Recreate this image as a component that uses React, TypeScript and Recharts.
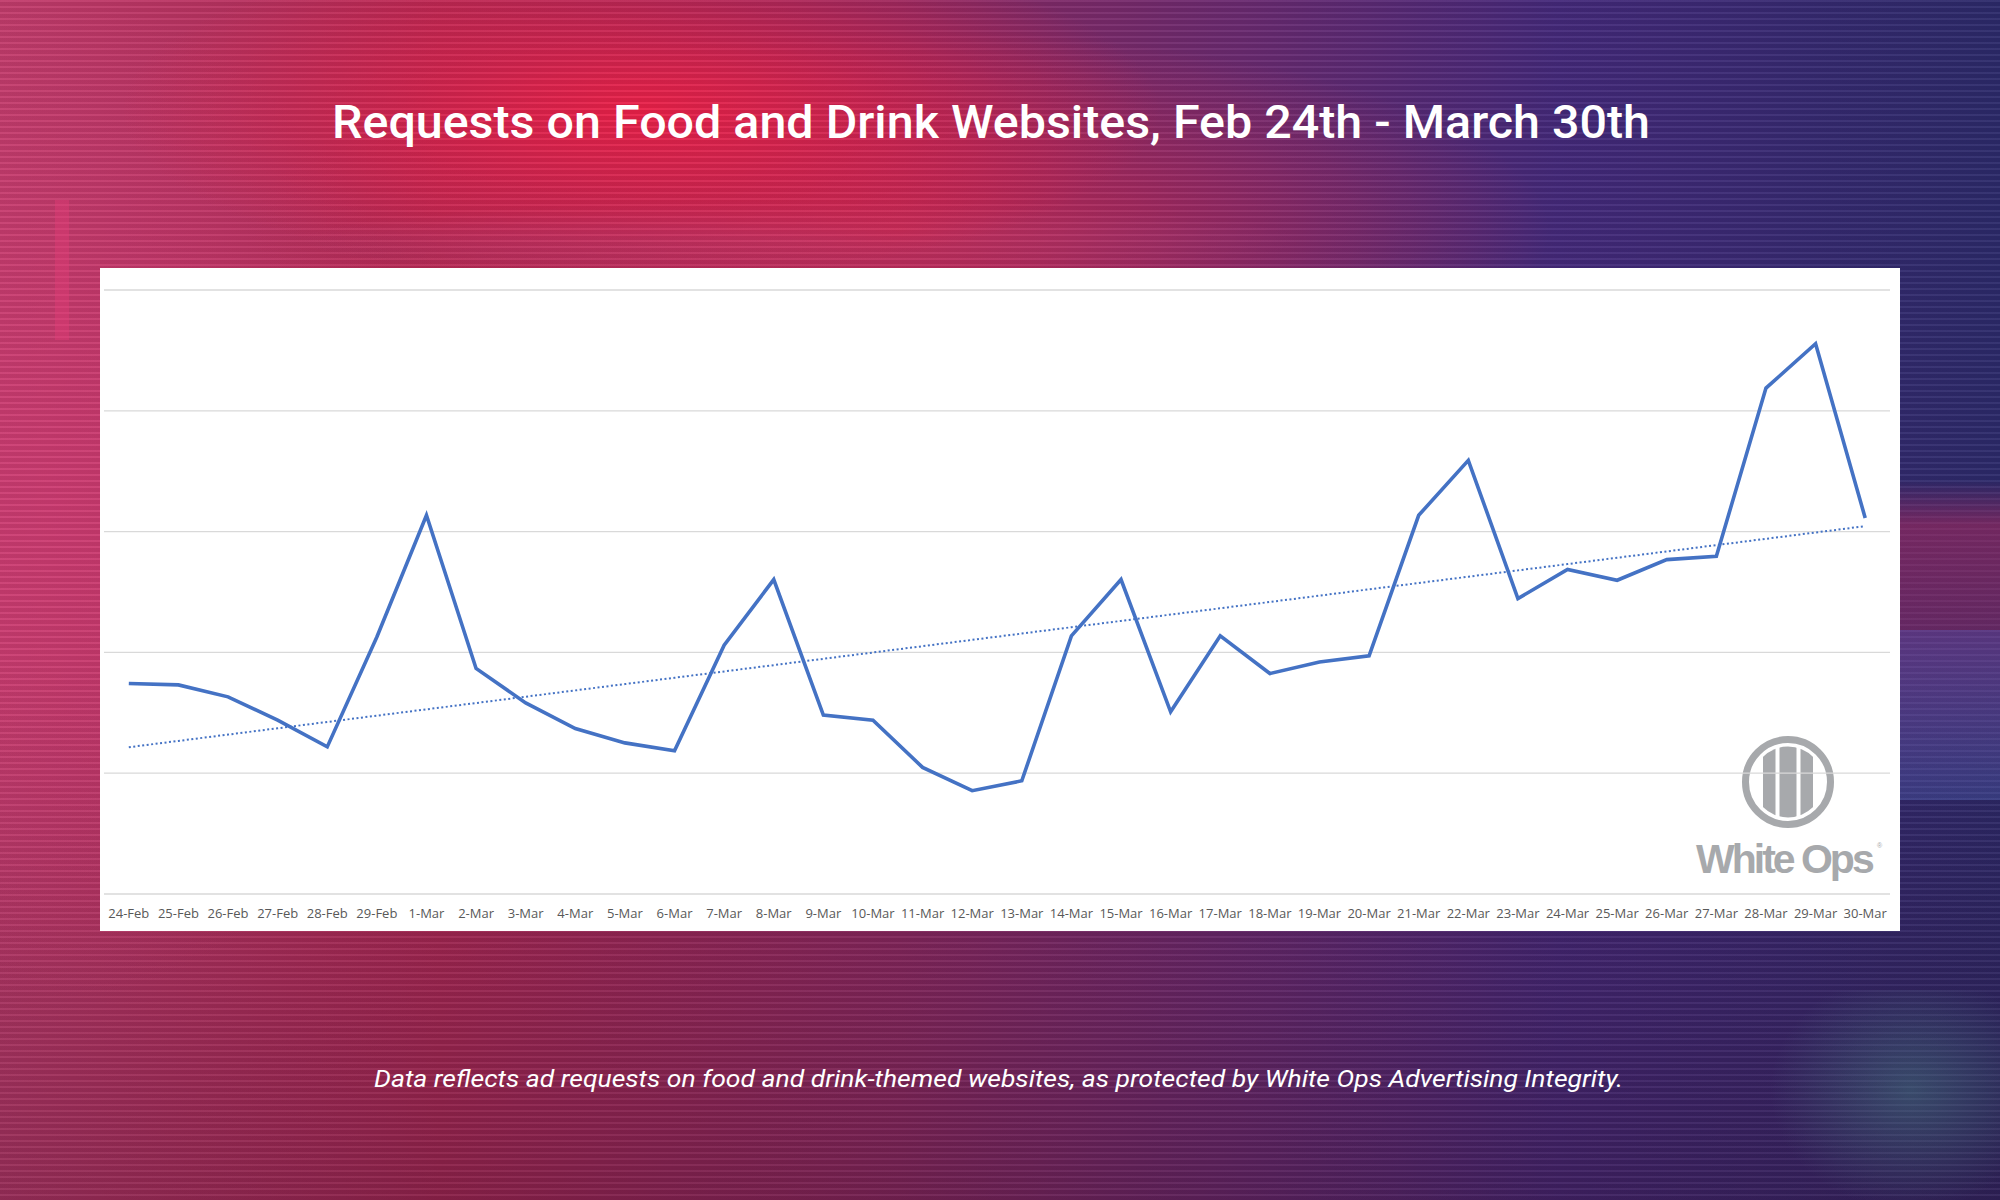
import React from 'react';
import { LineChart, Line, XAxis, YAxis, CartesianGrid } from 'recharts';

const dates = [
  '24-Feb', '25-Feb', '26-Feb', '27-Feb', '28-Feb', '29-Feb',
  '1-Mar', '2-Mar', '3-Mar', '4-Mar', '5-Mar', '6-Mar', '7-Mar', '8-Mar', '9-Mar', '10-Mar',
  '11-Mar', '12-Mar', '13-Mar', '14-Mar', '15-Mar', '16-Mar', '17-Mar', '18-Mar', '19-Mar', '20-Mar',
  '21-Mar', '22-Mar', '23-Mar', '24-Mar', '25-Mar', '26-Mar', '27-Mar', '28-Mar', '29-Mar', '30-Mar',
];

const requests = [
  1.743, 1.731, 1.632, 1.439, 1.218, 2.128,
  3.135, 1.867, 1.582, 1.370, 1.251, 1.185, 2.060, 2.603, 1.481, 1.439,
  1.048, 0.855, 0.937, 2.137, 2.603, 1.508, 2.137, 1.825, 1.921, 1.971,
  3.135, 3.590, 2.446, 2.686, 2.597, 2.768, 2.796, 4.188, 4.555, 3.113,
];

const gridTicks = [0, 1, 2, 3, 4, 5];

const titleText = 'Requests on Food and Drink Websites, Feb 24th - March 30th';
const noteText =
  'Data reflects ad requests on food and drink-themed websites, as protected by White Ops Advertising Integrity.';

// Excel-style linear trendline (least squares) derived from the series
function linearTrend(values: number[]): number[] {
  const n = values.length;
  const mx = (n - 1) / 2;
  const my = values.reduce((a, b) => a + b, 0) / n;
  let sxy = 0;
  let sxx = 0;
  values.forEach((v, i) => {
    sxy += (i - mx) * (v - my);
    sxx += (i - mx) * (i - mx);
  });
  const slope = sxy / sxx;
  const b = my - slope * mx;
  return values.map((_, i) => b + slope * i);
}

const trend = linearTrend(requests);
const data = dates.map((d, i) => ({ date: d, requests: requests[i], trend: trend[i] }));

const DateTick = (props: any) => {
  const { x, y, payload } = props;
  return (
    <text
      x={x}
      y={y + 24}
      textAnchor="middle"
      fontFamily="'Open Sans', sans-serif"
      fontSize={13}
      fill="#595959"
    >
      {payload.value}
    </text>
  );
};

const Logo = () => (
  <svg width={1800} height={663} style={{ position: 'absolute', left: 0, top: 0 }}>
    <defs>
      <clipPath id="logoClip">
        <circle cx={1688} cy={514} r={35.5} />
      </clipPath>
    </defs>
    <circle cx={1688} cy={514} r={42.5} fill="none" stroke="#a7a9ac" strokeWidth={7} />
    <g clipPath="url(#logoClip)" fill="#a7a9ac">
      <rect x={1663} y={470} width={12.5} height={90} />
      <rect x={1679.5} y={470} width={17} height={90} />
      <rect x={1700.5} y={470} width={12.5} height={90} />
    </g>
    <text
      x={1596}
      y={605}
      fontFamily="'Liberation Sans', Arial, sans-serif"
      fontWeight={700}
      fontSize={41}
      letterSpacing={-3}
      fill="#a7a9ac"
    >
      White Ops
    </text>
    <text x={1777} y={580} fontFamily="'Liberation Sans', Arial, sans-serif" fontSize={7} fill="#a7a9ac">
      ®
    </text>
  </svg>
);

const bg = [
  'repeating-linear-gradient(180deg, rgba(255,255,255,0.05) 0px, rgba(255,255,255,0.05) 2px, rgba(0,0,0,0.07) 2px, rgba(0,0,0,0.07) 6px)',
  'radial-gradient(ellipse 520px 170px at 640px 110px, rgba(238,32,72,0.95), rgba(238,32,72,0) 100%)',
  'radial-gradient(ellipse 650px 200px at 900px 230px, rgba(215,40,80,0.75), rgba(215,40,80,0) 100%)',
  'radial-gradient(ellipse 500px 40px at 800px 240px, rgba(150,120,200,0.35), rgba(150,120,200,0) 100%)',
  'radial-gradient(ellipse 380px 500px at 60px 500px, rgba(215,60,120,0.55), rgba(215,60,120,0) 100%)',
  'linear-gradient(180deg, rgba(0,0,0,0) 55%, rgba(50,10,40,0.30) 100%)',
  'linear-gradient(90deg, #c23c6c 0%, #b02a56 22%, #8e2a62 45%, #6a2a70 62%, #44297a 78%, #2c2a6a 100%)',
].join(', ');

export default function App() {
  return (
    <div
      style={{
        position: 'absolute',
        left: 0,
        top: 0,
        width: 2000,
        height: 1200,
        overflow: 'hidden',
        background: bg,
      }}
    >
      {/* glitch blocks */}
      <div
        style={{
          position: 'absolute',
          left: 1900,
          top: 480,
          width: 100,
          height: 150,
          background: 'linear-gradient(180deg, rgba(200,40,90,0.0), rgba(200,40,90,0.45) 30%, rgba(200,40,90,0.35))',
        }}
      />
      <div
        style={{
          position: 'absolute',
          left: 1900,
          top: 630,
          width: 100,
          height: 170,
          background: 'linear-gradient(180deg, rgba(170,80,170,0.35), rgba(90,120,210,0.25))',
        }}
      />
      <div
        style={{
          position: 'absolute',
          left: 1760,
          top: 990,
          width: 240,
          height: 210,
          background: 'radial-gradient(ellipse 140px 120px at 150px 100px, rgba(80,170,150,0.3), rgba(80,170,150,0) 100%)',
        }}
      />
      <div style={{ position: 'absolute', left: 55, top: 200, width: 14, height: 140, background: 'rgba(230,60,120,0.4)' }} />

      <svg width={2000} height={1200} style={{ position: 'absolute', left: 0, top: 0 }}>
        <text
          x={332}
          y={138}
          fontFamily="Roboto, 'Open Sans', sans-serif"
          fontWeight={500}
          fontSize={46}
          fill="#ffffff"
          textLength={1318}
          lengthAdjust="spacingAndGlyphs"
        >
          {titleText}
        </text>
        <text
          x={374}
          y={1087}
          fontFamily="Roboto, 'Open Sans', sans-serif"
          fontStyle="italic"
          fontSize={23}
          fill="#ffffff"
          textLength={1249}
          lengthAdjust="spacingAndGlyphs"
        >
          {noteText}
        </text>
      </svg>

      <div style={{ position: 'absolute', left: 100, top: 268, width: 1800, height: 663, background: '#ffffff' }}>
        <Logo />
        <div style={{ position: 'absolute', left: 0, top: 0 }}>
          <LineChart width={1800} height={663} data={data} margin={{ top: 22, right: 10, bottom: 0, left: 4 }}>
            <CartesianGrid vertical={false} stroke="#d9d9d9" strokeWidth={1.3} />
            <XAxis
              dataKey="date"
              interval={0}
              tickLine={false}
              axisLine={false}
              tickSize={0}
              tickMargin={0}
              height={37}
              padding={{ left: 24.8, right: 24.8 }}
              tick={<DateTick />}
            />
            <YAxis hide domain={[0, 5]} ticks={gridTicks} />
            <Line
              type="linear"
              dataKey="trend"
              stroke="#4472c4"
              strokeWidth={2}
              strokeDasharray="2 2.5"
              dot={false}
              activeDot={false}
              isAnimationActive={false}
            />
            <Line
              type="linear"
              dataKey="requests"
              stroke="#4472c4"
              strokeWidth={3.6}
              strokeLinejoin="miter"
              dot={false}
              activeDot={false}
              isAnimationActive={false}
            />
          </LineChart>
        </div>
      </div>
    </div>
  );
}
